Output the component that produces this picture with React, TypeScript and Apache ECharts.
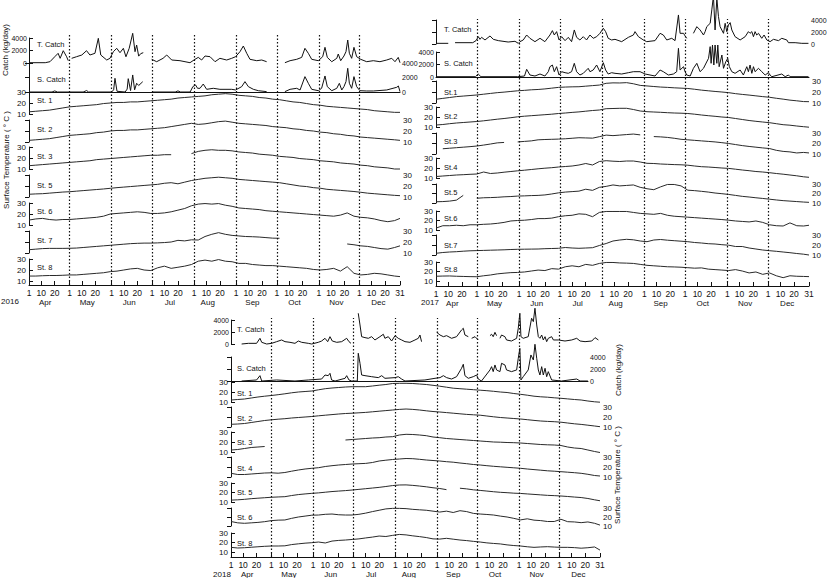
import React, { useEffect, useRef } from "react";
import * as echarts from "echarts";

// ---------- axis definitions (days since 1 April) ----------
const tempDays = [0, 5, 10, 15, 20, 25, 30, 35, 40, 45, 50, 55, 60, 65, 70, 75, 80, 85, 90, 95, 100, 105, 110, 115, 120, 125, 130, 135, 140, 145, 150, 155, 160, 165, 170, 175, 180, 185, 190, 195, 200, 205, 210, 215, 220, 225, 230, 235, 240, 245, 250, 255, 260, 265, 270, 274];
const tickDays = [0, 9, 19, 30, 39, 49, 61, 70, 80, 91, 100, 110, 122, 131, 141, 153, 162, 172, 183, 192, 202, 214, 223, 233, 244, 253, 263, 274];
const tickLabels = ["1", "10", "20", "1", "10", "20", "1", "10", "20", "1", "10", "20", "1", "10", "20", "1", "10", "20", "1", "10", "20", "1", "10", "20", "1", "10", "20", "31"];
const monthStarts = [30, 61, 91, 122, 153, 183, 214, 244];
const monthLabelDays = [12, 43, 74, 104, 132, 165, 196, 227, 258];
const monthNames = ["Apr", "May", "Jun", "Jul", "Aug", "Sep", "Oct", "Nov", "Dec"];

// ---------- 2016 ----------
const tCatch2016: [number, number | null][] = [[0, 50], [12, 50], [15.5, 210], [19, 1000], [21.5, 1550], [23, 750], [25.3, 1970], [27.8, 1000], [29, 370], [30, null], [31.5, 750], [35, 1000], [39, 1280], [42.5, 1970], [45, 1280], [48.7, 1550], [51.2, 3950], [53, 1280], [57.4, 480], [59.8, 750], [62.3, 1810], [64.8, 2350], [67.2, 1650], [69.7, 2350], [71.6, 1000], [74, 2350], [76.6, 4750], [78.3, 1810], [79.5, 2880], [81, 1100], [82.5, 1500], [84.4, 1650], [87, null], [90.6, 590], [94.3, 210], [99, 750], [101.7, 1280], [105.4, 480], [111.5, 370], [118.9, 50], [122.6, 590], [125, 900], [127.5, 480], [130, 1120], [133.7, 1010], [137.4, 210], [141, 750], [146, 480], [149.7, 750], [152.6, 1010], [155.8, 1810], [158.3, 2720], [160.8, 1550], [163.2, 590], [168.2, 370], [171.9, 480], [175.5, 210], [180, null], [189, 50], [192.8, 370], [197.7, 590], [201.4, 900], [203.8, 2350], [206.3, 1550], [208.8, 590], [213.7, 370], [216.9, 1010], [218.6, 2510], [220.3, 900], [223.6, 210], [227.3, 750], [228.4, 1440], [230.2, 370], [232.6, 1120], [234.1, 1810], [235.4, 3680], [236.6, 1550], [238.3, 750], [240, 2510], [242, 1010], [245, 590], [249.4, 210], [254.3, 370], [259.2, 210], [264.2, 480], [267.9, 750], [270.3, 210], [272.7, 900], [274, 50]];
const sCatch2016: [number, number | null][] = [[0, 0], [17, 0], [19, 150], [21, 0], [40, 0], [42.6, 200], [44, 0], [61, 0], [62.5, 300], [63.5, 1890], [65, 100], [71, 0], [72.5, 400], [73.3, 1840], [75, 200], [76.6, 2350], [78, 300], [79.5, 1200], [81, 900], [84, 1420], [86, null], [91, 0], [108, 0], [110, 150], [112, 0], [119, 0], [121, 740], [123, 970], [124.5, 510], [126.3, 510], [128.7, 1100], [131.2, 370], [136.1, 510], [141, 370], [149.7, 370], [152.6, 280], [157.1, 740], [159.5, 1430], [162, 740], [165.7, 370], [169.4, 180], [175.5, 50], [180, null], [189, 50], [192.8, 370], [197.7, 510], [200.2, 280], [203.8, 2120], [206.3, 1200], [208.8, 370], [213.7, 180], [216.1, 510], [218.6, 2210], [220.3, 740], [223.6, 180], [227.3, 510], [229.2, 1200], [231, 280], [232.6, 740], [234.1, 1430], [235.4, 3270], [236.6, 1200], [238.3, 510], [240, 2120], [242, 740], [244.4, 180], [249.4, 140], [254.3, 140], [264.2, 280], [271.6, 650], [272.8, 830], [274, 50]];
const st1_2016 = [12, 12.5, 13, 13.5, 14.5, 15.5, 16.5, 17, 17.5, 18, 18.5, 19.5, 20, 20.5, 20.5, 21, 21, 21.5, 22, 22.5, 23, 23.5, 24.5, 25, 25.5, 26, 26.5, 27.5, 28, 28.5, 28, 27, 26.5, 26, 25, 24.5, 23.5, 23, 22, 21, 20.5, 19.5, 18.5, 18, 17, 16.5, 16, 15.5, 15, 14.5, 14, 13, 12.5, 12, 11.5, 11.5];
const st2_2016 = [11.5, 12, 12.5, 13, 14, 15, 16, 16.5, 17, 17.5, 18.5, 19, 20, 20.5, 20.5, 21, 21, 21.5, 22, 22.5, 23, 24, 25, 26, 27, 26, 26.5, 27.5, 28.5, 29, 28, 27, 26.5, 26, 25.5, 25, 24, 23.5, 23, 22, 21.5, 20.5, 20, 19, 18.5, 17.5, 17, 16, 15.5, 14.5, 14, 13.5, 13, 12.5, 12, 11.5];
const st3_2016 = [13, 13.5, 14, 14.5, 15, 15.5, 16, 16.5, 17, 17.5, 18.5, 19, 19.5, 20, 20.5, 21, 21.5, 22, 22.5, 22.5, 23, 23, null, null, 24, 26, 27, 27.5, 27, 27, 26.5, 25.5, 25, 24.5, 23.5, 23, 22.5, 21.5, 21, 20.5, 19.5, 19, 18.5, 17.5, 17, 16.5, 15.5, 15, 14.5, 13.5, 13, 12, 11.5, 11, 10, 10];
const st5_2016 = [12.5, 12.8, 13, 13.5, 14, 14.5, 14.8, 15.3, 15.8, 16.3, 16.8, 17.3, 17.9, 18.5, 19, 19.5, 20, 20.5, 21, 21.5, 22.5, 23, 22, 23.5, 25, 26, 27, 27.5, 28, 27.5, 27, 26, 25.5, 25, 24.5, 24, 23.5, 23, 22, 21, 20, 19.5, 18.5, 18, 17, 16.5, 16, 15.5, 15, 14.3, 13.5, 13, 12.5, 12, 11.5, 11.2];
const st6_2016 = [14.5, 15.5, 16, 15, 14.5, 15, 15, 15.5, 16, 16.5, 17, 18, 20, 20.5, 21, 21.5, 22, 21.5, 20.5, 20.5, 21, 22, 23.5, 25, 27.5, 29, 29.5, 29, 29.5, 28, 27, 25.5, 25, 24.5, 24, 23, 22.5, 22, 21.5, 21, 20.5, 20, 19.5, 19, 18.5, 18, 19, 21, 18, 17, 16.5, 15.5, 14, 13, 14, 16];
const st7_2016 = [13, 13.5, 14, 14.2, 14.2, 14.2, 14.3, 14.5, 15, 15.5, 16, 16.5, 17, 17.5, 18, 18.5, 18.8, 19, 19, 19.2, 19.5, 20, 21.5, 21, 22, 21.8, 25, 27, 28.5, 27, 26, 25.5, 25, 24.8, 24.5, 24, 23.5, 23.4, null, null, null, null, null, null, null, null, null, 18.2, 17.5, 16.5, 16, 15, 14, 13.5, 15, 16.5];
const st8_2016 = [14.5, 14.5, 14.8, 15, 15, 15.2, 15.5, 15.5, 16, 16.5, 17, 17.5, 18.5, 19, 20, 21, 21.5, 20, 19.5, 22, 23.5, 21.5, 22.5, 23.5, 25, 28, 29, 28, 29.5, 28, 27.5, 26, 26, 25, 24.5, 24, 24, 23.5, 23, 22.5, 22, 21.5, 20.5, 20, 20.5, 21.5, 19, 23, 17, 15.5, 16, 17, 16.5, 15.5, 14.5, 14];

// ---------- 2017 ----------
const tCatch2017: [number, number | null][] = [[0, 110], [9, 110], [11, null], [14, 220], [27, 220], [29.4, 560], [31.1, 1220], [32.3, 780], [33.5, 1110], [36, 670], [39.7, 1340], [42.1, 780], [45.8, 560], [53, 330], [58, 450], [60.5, 110], [61.7, 390], [64.1, 670], [66.6, 1500], [69, 950], [72.7, 390], [76.4, 950], [80, 390], [83.7, 1500], [85.5, 2230], [86.9, 1500], [88.6, 2060], [90.4, 670], [92.3, 1220], [94.8, 560], [97.2, 1110], [99.6, 390], [101.6, 2340], [103.3, 1110], [105.7, 670], [108.2, 1220], [110.6, 670], [113.1, 1500], [115.5, 950], [118, 1220], [120.4, 1780], [122.9, 2620], [124.6, 2060], [126.5, 950], [129, 670], [131.5, 780], [136.4, 390], [141.3, 1110], [145, 1500], [146.2, 2060], [148.7, 1220], [152.3, 670], [154.8, 390], [160.9, 560], [164.6, 1780], [167, 1500], [169.5, 670], [173.2, 950], [175.6, 560], [178.1, 4840], [179.3, 1780], [181.8, 1780], [183, 1340], [184.2, 950], [186, null], [189.1, 1780], [191.6, 2890], [194, 2340], [196.5, 1500], [197.7, 2060], [198.9, 2890], [201.4, 3450], [202.6, 5680], [203.8, 8000], [205, 2340], [206.3, 7600], [207.5, 4560], [208.7, 2890], [211.2, 1780], [212.4, 3450], [213.6, 2060], [214.8, 3170], [216.1, 3560], [217.3, 2340], [219.7, 1220], [223.4, 670], [227.1, 1220], [229.5, 2060], [230.7, 1780], [232, 2060], [233.2, 1220], [234.4, 2060], [235.6, 1500], [236.9, 1780], [239.3, 950], [241, 1500], [243, 670], [245.4, 390], [247.9, 780], [251.6, 560], [254, 950], [257.7, 670], [258.9, 220], [263.8, 220], [268.7, 110], [273.6, 110]];
const sCatch2017: [number, number | null][] = [[0, 50], [29, 50], [31, 480], [33, 50], [60, 50], [65, 160], [66.6, 1230], [69, 320], [72.7, 160], [76.4, 480], [80, 160], [82.5, 850], [83.7, 1650], [85.5, 1920], [86.9, 850], [88.6, 1650], [90.4, 320], [92.3, 850], [94.8, 690], [97.2, 590], [99.6, 850], [101.6, 2190], [103.3, 850], [105.7, 320], [108.2, 590], [111.8, 1390], [113.1, 850], [115.5, 1120], [118, 1920], [120.4, 850], [122.9, 2290], [124.6, 1120], [126.5, 480], [129, 690], [131.5, 590], [136.4, 480], [141.3, 690], [145, 850], [149.9, 850], [153.6, 480], [160.9, 160], [164.6, 1120], [167, 850], [170.7, 320], [174.4, 480], [176.8, 850], [178.1, 4590], [179.3, 1120], [181.8, 1650], [183, 850], [184.2, 320], [186.7, 160], [189.1, 1390], [191.6, 2190], [194, 850], [196.5, 1390], [197.7, 1920], [200.2, 2990], [201.4, 4860], [202.1, 2190], [203.1, 5120], [204.1, 1920], [205, 5120], [206.3, 2190], [207, 5120], [208, 1650], [210, 3520], [211.2, 1390], [212.9, 2450], [214.3, 2990], [215.5, 1650], [217.3, 850], [219.7, 590], [223.4, 1120], [225.8, 320], [228.3, 1650], [229.5, 850], [230.7, 1920], [232, 590], [233.2, 1650], [234.4, 850], [236.9, 1390], [239.3, 850], [241.8, 320], [244.2, 690], [245.4, 320], [246.7, 50], [254, 480], [256.5, 50], [258.9, 320], [260.1, 50], [273.6, 50]];
const st1_2017 = [13.4, 14.2, 15, 15.8, 16.3, 16.8, 17.3, 18, 18.7, 19.4, 19.9, 20.5, 21.1, 21.5, 22, 22.3, 22.8, 23.5, 24.2, 24.5, 24.7, 24.8, 25.3, 25.8, 26.3, 27.9, 28.3, 28.2, 28.5, 27.5, 26, 25.5, 25, 24.5, 24.2, 23.8, 23.5, 23.2, 22.5, 21.7, 21.1, 20.5, 20, 19.4, 18.5, 17.8, 17.2, 16.5, 15.8, 15.2, 14.3, 13.5, 12.6, 12, 11.3, 11.2];
const st2_2017 = [12, 12.5, 13.3, 14, 14.5, 15, 15.5, 16.2, 17, 17.8, 18.5, 19.3, 20.2, 20.8, 21.3, 21.8, 22.3, 22.8, 23.5, 24, 24.6, 25.1, 25.8, 26.5, 27, 28.3, 28.5, 28.7, 28.7, 27.5, 26, 25.3, 25, 24.7, 24.3, 24, 23.8, 23.5, 22.8, 22, 21.3, 20.7, 20, 19.5, 18.5, 17.5, 16.5, 15.7, 15, 14.3, 13.3, 12.3, 11.8, 11, 10.3, 9.8];
const st3_2017 = [null, 15, 15.5, 16, 16.5, 17, 17.6, 18.5, 19.5, 20.6, 21, null, 21.5, 22, 22.5, 23.5, 23.8, 24, 24.2, 24.5, 25, 25.5, 25.3, 25.1, 26.5, 28, 27.5, 28, 28.5, 29, 28.2, null, 26.6, 26.3, 25.8, 25, 24, 23.5, 23, 22.5, 22, 21.5, 20.8, 20, 19, 18, 17.2, 16.5, 15.8, 15.2, 13.5, 12.5, 12, 11, 11.5, 11];
const st4_2017 = [11.5, 12, 12.5, 13, 13.3, 13.7, 14, 16, 14.5, 15, 15.8, 16.5, 17.2, 17.8, 18.5, 19.2, 19.8, 20.3, 21, 21.5, 22, 23, 24.5, 23, 26.5, 27.3, 26.8, 26.5, 27, 27, 26, 24.7, 24.5, 24, 23.7, 23.4, 23.2, 22.8, 22, 21.3, 21, 20.5, 20, 19.6, 18.8, 18, 17.3, 16.5, 16, 15.3, 14.5, 13.8, 13, 12.2, 11.2, 10.7];
const st5_2017 = [11.3, 11.5, 12, 13, 18, null, 15, 15.5, 15.7, 16, 16.5, 16.8, 17.3, 17.5, 17.8, 18, 18.5, 19.5, 20.7, 21.5, 22, 22.5, 24.5, 23.3, 26.5, 27.5, 29, 28, 28.5, 29, 26.5, 25, 24, 27, 29.5, 29.5, 28, 23.5, 23, 22.3, 21.5, 20.5, 19.8, 19, 18, 17, 16.3, 15.5, 14.8, 14, 13.2, 12.5, 12, 11.5, 11, 10.7];
const st6_2017 = [12, 14.5, 14.5, 15, 14.5, 15.5, 15.5, 16, 16.3, 17, 18, 19.5, 20, 20.3, 21, 22, 22, 22.5, 24, 25, 25.5, 27, 26.5, 24, 28.5, 29.5, 29.5, 29.5, 29.5, 28.5, 27.5, 27, 26.5, 27.5, 25.5, 24.5, 24, 23.5, 23, 22.5, 22, 21.5, 21, 20.3, 19.5, 19, 18.5, 19.5, 18, 15.5, 14.5, 14.2, 17.5, 14.5, 14.2, 15];
const st7_2017 = [11.7, 12.5, 13, 13.3, 13.8, 14.2, 14.4, 14.6, 14.8, 15, 15.2, 15.5, 15.7, 15.8, 15.9, 16, 16.3, 16.5, 16.7, 17.5, 17, 16.7, 17, 17.3, 19.5, 21.5, 24, 25, 25.7, 25.2, 24, 23.3, 25, 25.5, 24.8, 24.3, 23.8, 23.3, 22.5, 22, 21.3, 21, 20.3, 19.8, 18.5, 18.5, 17, 16, 15, 14.3, 13.7, 13, 12.3, 11.5, 10.8, 10];
const st8_2017 = [15, 15.2, 15.3, 15, 14.8, 14.6, 14.5, 15.5, 16.3, 17.5, 18.2, 18.8, 19, 19.5, 20.5, 21.5, 21, 23, 22.5, 25, 26, 25, 27.5, 26.5, 28.5, 29.5, 29.5, 29, 28.8, 28.5, 27.5, 26.5, 26, 25.5, 25, 24.8, 24.5, 24, 23.5, 23.8, 22.5, 22, 21.5, 21, 22, 20.5, 18.5, 19.5, 17, 18.5, 15.5, 13.5, 15.5, 15, 14.8, 14.6];

// ---------- 2018 ----------
const tCatch2018: [number, number | null][] = [[7.9, 0], [12.9, 110], [19, 110], [21.5, 950], [22.8, 280], [26.5, 0], [30.2, 110], [33.9, 390], [37.6, 670], [40.1, 390], [43.8, 280], [47.5, 110], [50, 500], [52.5, 280], [57.4, 110], [59.9, 0], [64.8, 280], [67.3, 500], [69.8, 950], [71.8, 390], [73.5, 1220], [75.2, 500], [78.5, 280], [82.2, 390], [85.9, 950], [87.6, 390], [89.1, 110], [91, null], [94.5, 5120], [95.8, 3170], [97, 1220], [99.5, 1060], [102, 950], [104.4, 1220], [106.9, 670], [110.6, 1220], [113.1, 1620], [114.3, 950], [116.8, 1220], [119.3, 500], [121.8, 1390], [124.2, 950], [126.7, 670], [129.2, 390], [132.9, 280], [136.6, 670], [139.1, 950], [140.3, 1500], [141.5, 390], [143, null], [152.7, 1950], [155.2, 1500], [157.7, 1220], [160.1, 1390], [163.8, 950], [167.5, 1220], [171.2, 2340], [172.5, 2620], [173.7, 1500], [176.2, 1220], [177, null], [178.7, 950], [181.2, 1220], [183.6, 670], [185, null], [192.3, 1390], [193.5, 1620], [194.7, 1220], [196, 1950], [197.2, 1390], [198.5, null], [199.7, 950], [200.9, 1500], [203.4, 1220], [204.6, 670], [208.3, 500], [212.1, 950], [213.3, 2620], [214.5, 5120], [215.3, 1220], [217, 950], [220.7, 1220], [223.2, 4290], [224.5, 3730], [225.7, 5960], [227, 3170], [228.2, 1220], [229.4, 950], [230.7, 1500], [231.9, 670], [233.2, 1220], [234.4, 390], [235.6, 950], [238.1, 1220], [239.4, 670], [243.1, 670], [248, 500], [253, 670], [256.7, 950], [259.2, 500], [262.9, 390], [267.9, 500], [270.3, 1060], [272.8, 670]];
const sCatch2018: [number, number | null][] = [[7.9, 0], [19, 170], [21.5, 890], [22.8, 0], [33.9, 170], [47.5, 0], [57.4, 170], [67.3, 330], [69.8, 1000], [72.2, 890], [73.5, 1280], [74.7, 170], [77.3, 0], [84.7, 450], [85.9, 890], [87.6, 170], [89.6, 0], [93.8, 0], [94.5, 4620], [95.8, 2950], [97, 1000], [99.5, 890], [104.4, 720], [109.4, 560], [111.9, 890], [114.3, 450], [121.8, 560], [124.2, 720], [126.7, 330], [129.2, 0], [144, 170], [151.5, 450], [155.2, 560], [157.7, 890], [160.1, 560], [163.8, 330], [167.5, 720], [171.2, 2120], [172.5, 2790], [173.7, 890], [176.2, 450], [179.9, 720], [182.4, 1000], [183.6, 330], [186, 0], [192.3, 1840], [193.5, 2390], [194.7, 1560], [196, 2670], [197.2, 1840], [199.7, 1560], [200.9, 2950], [203.4, 2670], [204.6, 1840], [208.3, 1560], [212.1, 1840], [213.3, 3790], [214.5, 5450], [215.3, 170], [217, 720], [220.7, 1840], [222.7, 4340], [224.5, 3510], [225.7, 6120], [227, 3790], [228.2, 1840], [229.4, 1000], [230.7, 2390], [231.9, 1000], [233.2, 2120], [234.4, 720], [235.6, 1560], [238.1, 170], [245.4, 0], [256.7, 330], [259.2, 0], [265, 0]];
const st1_2018 = [12, 12.5, 13, 14, 15, 15.8, 16.5, 17.3, 18.2, 19.2, 20, 20.5, 21, 22.2, 23.3, 24, 24.5, 25, 25.3, 25.3, 25.3, 26, 26.8, 27.5, 28.5, 28.7, 28.7, 28.5, 28, 27.5, 26.7, 25.8, 24.8, 23.8, 23.3, 22.8, 22.3, 21.8, 21.3, 20.7, 20, 19.5, 18.5, 17.7, 16.8, 15.8, 15.2, 14.8, 14.2, 13.7, 13.1, 12.5, 12, 11, 10.2, 9.8];
const st2_2018 = [12.7, 13, 13.5, 14.5, 15.5, 16.5, 17.2, 17.8, 18.3, 19, 19.5, 20, 20.5, 21.2, 21.8, 22.4, 23, 23.5, 23.8, 24.2, 24.6, 25.2, 25.8, 26.4, 27, 27.6, 28, 27.6, 27, 26.2, 25.5, 25, 24.4, 23.8, 23.2, 22.6, 22.2, 21.8, 21, 20.2, 19.5, 19, 18.5, 18, 17.3, 16.6, 16, 15.6, 15.3, 14.8, 14, 13.2, 12.6, 11.8, 11, 10.3];
const st3_2018 = [12, 12.5, 13.5, 14.5, 15, 15.5, null, null, null, null, null, null, null, null, null, null, null, 22, 22.5, 23, 23.5, 24, 24.3, 25, 25.3, 27, 27.7, 27.5, 27, 26.3, 25, 24.3, 23.5, 23, 22.5, 22, 21.5, 21, 20.5, 20, 19.8, 19.5, 19.3, 19, 18.5, 18, 17.5, 17.2, 17, 16.5, 15, 14, 13.5, 12, 10.5, 9.5];
const st4_2018 = [13.7, 12.5, 12.5, 13, 13.5, 14, 14.2, 13.8, 14.5, 15.8, 17, 18, 18.7, 19.3, 20.5, 21.3, 22, 22.5, 23, 23.3, 23.6, 24.5, 26, 26.8, 27.5, 28, 28.5, 28.3, 27.7, 27, 26.5, 26, 25.3, 24.8, 24, 23.3, 22.5, 22, 21.3, 20.7, 20.2, 19.7, 19.2, 18.7, 18, 17.4, 16.8, 16.2, 15.8, 15.3, 14.8, 14.3, 13.7, 12.7, 11.5, 11];
const st5_2018 = [12, 12.3, 12.8, 13.5, 14, 14.5, 15, 15.3, 15.6, 16.8, 17.8, 18.5, 19.1, 19.6, 20.3, 21, 21.5, 22, 22.6, 23.3, 24, 24.7, 25.4, 26.3, 27.3, 27.9, 28, 27.5, 26.8, 26, 25, 24.2, 23, null, 24.5, 23.8, 22.8, 22.2, 21.5, 20.8, 20.2, 19.8, 19.3, 19, 18.5, 18, 17.5, 17, 16.7, 16.3, 15.8, 15.2, 14.7, 13.7, 12.3, 11.3];
const st6_2018 = [15, 13.5, 13, 13.5, 14, 14.8, 16, 16.5, 16.7, 18.5, 20, 21, 22, 22.2, 23, 23.3, 22.5, 22.2, 22.2, 23, 24.3, 26, 27.5, 29, 29.6, 29.6, 29.3, 28.5, 28, 27.5, 26.5, 25.5, 26.5, 25, 27, 26, 24, 23.3, 22.8, 22.2, 21, 20, 18.5, 16.8, 18, 16.5, 16, 15, 15, 17.5, 14.8, 14.5, 13.7, 14.5, 13, 11];
const st8_2018 = [14.9, 14.2, 14.5, 15, 15.5, 16, 16.3, 16.3, 16.5, 17.8, 18.6, 19.3, 19.8, 20.5, 19.5, 21.5, 22.2, 22.6, 23.2, 23.8, 24.8, 25.7, 26.8, 26.3, 27.5, 28.5, 28, 27, 26.2, 25.2, 23.8, 23.6, 24.4, 23.5, 22.6, 22, 21.2, 20.5, 19.6, 19, 18.5, 17.5, 16.8, 16.3, 15.5, 14.9, 15.3, 15.6, 15.2, 14.9, 14.9, 14.6, 14, 14.5, 15.3, 12];

// ---------- helpers ----------
const FONT = "'Liberation Sans', Arial, sans-serif";
const INK = "#111";
const DAY_MAX = 274;

function temp(vals: (number | null)[]) {
  return tempDays.map((d, i) => [d, vals[i] == null ? "-" : vals[i]]);
}
function pts(list: [number, number | null][]) {
  return list.map(([d, v]) => [d, v == null ? "-" : v]);
}

type Strip = {
  label: string;
  top: number;
  bottom: number;
  side: "left" | "right";
  kind: "catch" | "temp";
  data: any[];
  labelY: number;
  baseline?: boolean;
  right?: number; // optional shorter right edge (same day scale)
};
type Panel = {
  year: string;
  x0: number;
  x1: number;
  axisY: number;
  dotTop: number;
  labelX: number;
  yearX: number;
  yearY: number;
  strips: Strip[];
};

const panels: Panel[] = [
  {
    year: "2016", x0: 29, x1: 400, axisY: 285, dotTop: 34, labelX: 37, yearX: 10, yearY: 301,
    strips: [
      { label: "T. Catch", top: 38, bottom: 63, side: "left", kind: "catch", data: pts(tCatch2016), labelY: 44 },
      { label: "S. Catch", top: 63, bottom: 92, side: "right", kind: "catch", data: pts(sCatch2016), labelY: 79, baseline: true },
      { label: "St. 1", top: 92, bottom: 114, side: "left", kind: "temp", data: temp(st1_2016), labelY: 100 },
      { label: "St. 2", top: 120, bottom: 142, side: "right", kind: "temp", data: temp(st2_2016), labelY: 129 },
      { label: "St. 3", top: 147, bottom: 169, side: "left", kind: "temp", data: temp(st3_2016), labelY: 156 },
      { label: "St. 5", top: 175, bottom: 197, side: "right", kind: "temp", data: temp(st5_2016), labelY: 185 },
      { label: "St. 6", top: 203, bottom: 225, side: "left", kind: "temp", data: temp(st6_2016), labelY: 211 },
      { label: "St. 7", top: 231, bottom: 253, side: "right", kind: "temp", data: temp(st7_2016), labelY: 240 },
      { label: "St. 8", top: 259, bottom: 281, side: "left", kind: "temp", data: temp(st8_2016), labelY: 267 },
    ],
  },
  {
    year: "2017", x0: 436, x1: 809, axisY: 286, dotTop: 19, labelX: 444, yearX: 430, yearY: 302,
    strips: [
      { label: "T. Catch", top: 20, bottom: 44, side: "right", kind: "catch", data: pts(tCatch2017), labelY: 29 },
      { label: "S. Catch", top: 52, bottom: 77, side: "left", kind: "catch", data: pts(sCatch2017), labelY: 63, baseline: true },
      { label: "St.1", top: 81, bottom: 103, side: "right", kind: "temp", data: temp(st1_2017), labelY: 92 },
      { label: "St.2", top: 107, bottom: 127, side: "left", kind: "temp", data: temp(st2_2017), labelY: 116 },
      { label: "St.3", top: 133, bottom: 154, side: "right", kind: "temp", data: temp(st3_2017), labelY: 141 },
      { label: "St.4", top: 158, bottom: 178, side: "left", kind: "temp", data: temp(st4_2017), labelY: 167 },
      { label: "St.5", top: 184, bottom: 203, side: "right", kind: "temp", data: temp(st5_2017), labelY: 192 },
      { label: "St.6", top: 211, bottom: 230, side: "left", kind: "temp", data: temp(st6_2017), labelY: 218 },
      { label: "St.7", top: 235, bottom: 255, side: "right", kind: "temp", data: temp(st7_2017), labelY: 245 },
      { label: "St.8", top: 262, bottom: 281, side: "left", kind: "temp", data: temp(st8_2017), labelY: 269 },
    ],
  },
  {
    year: "2018", x0: 231, x1: 600, axisY: 557, dotTop: 318, labelX: 237, yearX: 222, yearY: 574,
    strips: [
      { label: "T. Catch", top: 320, bottom: 344, side: "left", kind: "catch", data: pts(tCatch2018), labelY: 329 },
      { label: "S. Catch", top: 357, bottom: 381, side: "right", kind: "catch", data: pts(sCatch2018), labelY: 368, baseline: true, right: 588 },
      { label: "St. 1", top: 382, bottom: 402, side: "left", kind: "temp", data: temp(st1_2018), labelY: 393 },
      { label: "St. 2", top: 407, bottom: 427, side: "right", kind: "temp", data: temp(st2_2018), labelY: 418 },
      { label: "St. 3", top: 432, bottom: 452, side: "left", kind: "temp", data: temp(st3_2018), labelY: 442 },
      { label: "St. 4", top: 457, bottom: 477, side: "right", kind: "temp", data: temp(st4_2018), labelY: 468 },
      { label: "St. 5", top: 483, bottom: 502, side: "left", kind: "temp", data: temp(st5_2018), labelY: 492 },
      { label: "St. 6", top: 508, bottom: 526, side: "right", kind: "temp", data: temp(st6_2018), labelY: 517 },
      { label: "St. 8", top: 533, bottom: 552, side: "left", kind: "temp", data: temp(st8_2018), labelY: 543 },
    ],
  },
];

const tickLabelMap = new Map<number, string>(tickDays.map((d, i) => [d, tickLabels[i]]));
const monthMap = new Map<number, string>(monthLabelDays.map((d, i) => [d, monthNames[i]]));

function buildOption() {
  const grid: any[] = [];
  const xAxis: any[] = [];
  const yAxis: any[] = [];
  const series: any[] = [];
  const graphic: any[] = [];

  panels.forEach((p) => {
    p.strips.forEach((s) => {
      const gi = grid.length;
      const xi = xAxis.length;
      const isCatch = s.kind === "catch";
      const right = s.right ?? p.x1;
      const xMax = (DAY_MAX * (right - p.x0)) / (p.x1 - p.x0);
      grid.push({ left: p.x0, top: s.top, width: right - p.x0, height: s.bottom - s.top, outerBoundsMode: "none" });
      xAxis.push({
        gridIndex: gi, type: "value", min: 0, max: xMax, position: "bottom",
        axisLine: { show: !!s.baseline, lineStyle: { color: INK, width: 1 } },
        axisTick: { show: false }, axisLabel: { show: false }, splitLine: { show: false },
      });
      yAxis.push({
        gridIndex: gi, type: "value", position: s.side,
        min: isCatch ? 0 : 10, max: isCatch ? 4000 : 30, interval: isCatch ? 2000 : 10,
        axisLine: { show: true, lineStyle: { color: INK, width: 1 } },
        axisTick: { show: true, inside: true, length: 4, lineStyle: { color: INK, width: 1 } },
        axisLabel: {
          fontSize: isCatch ? 7 : 8, color: INK, fontFamily: FONT, margin: isCatch ? 2 : 3,
          formatter: (v: number) => String(v),
        },
        splitLine: { show: false },
      });
      series.push({
        type: "line", xAxisIndex: xi, yAxisIndex: gi, data: s.data,
        symbol: "none", showSymbol: false, clip: false, connectNulls: false, silent: true,
        lineStyle: { color: isCatch ? "#111" : "#2a2a2a", width: 1 },
      });
      graphic.push({
        type: "text", x: p.labelX, y: s.labelY, silent: true,
        style: { text: s.label, fontSize: 7.5, fontFamily: FONT, fill: INK, verticalAlign: "middle" },
      });
    });

    // overlay grid: month dividers and bottom date axis
    const gi = grid.length;
    const xi = xAxis.length;
    grid.push({ left: p.x0, top: p.dotTop, width: p.x1 - p.x0, height: p.axisY - p.dotTop, outerBoundsMode: "none" });
    xAxis.push({
      gridIndex: gi, type: "value", min: 0, max: DAY_MAX, position: "bottom",
      axisLine: { show: true, lineStyle: { color: INK, width: 1 } },
      axisTick: { show: true, inside: true, length: 4, customValues: tickDays, lineStyle: { color: INK, width: 1 } },
      axisLabel: { customValues: tickDays, formatter: (v: number) => tickLabelMap.get(v) ?? "", fontSize: 8.5, color: INK, fontFamily: FONT, margin: 3 },
      splitLine: { show: false },
    });
    xAxis.push({
      gridIndex: gi, type: "value", min: 0, max: DAY_MAX, position: "bottom", offset: 10,
      axisLine: { show: false }, axisTick: { show: false },
      axisLabel: { customValues: monthLabelDays, formatter: (v: number) => monthMap.get(v) ?? "", fontSize: 8, color: INK, fontFamily: FONT, margin: 3 },
      splitLine: { show: false },
    });
    yAxis.push({ gridIndex: gi, type: "value", min: 0, max: 1, show: false });
    series.push({
      type: "line", xAxisIndex: xi, yAxisIndex: gi, data: [[0, 0]], symbol: "none", silent: true,
      lineStyle: { opacity: 0 },
      markLine: {
        silent: true, symbol: ["none", "none"], label: { show: false },
        lineStyle: { color: INK, type: [1.5, 2], width: 1.2 },
        emphasis: { disabled: true },
        data: monthStarts.map((d) => ({ xAxis: d })),
      },
    });
    graphic.push({
      type: "text", x: p.yearX, y: p.yearY, silent: true,
      style: { text: p.year, fontSize: 8, fontFamily: FONT, fill: INK, align: "center", verticalAlign: "middle" },
    });
  });

  const titleStyle = { fontSize: 8, fontFamily: FONT, fill: INK, align: "center", verticalAlign: "middle" };
  graphic.push({ type: "text", x: 5, y: 50, rotation: Math.PI / 2, silent: true, style: { ...titleStyle, text: "Catch (kg/day)" } });
  graphic.push({ type: "text", x: 6, y: 160, rotation: Math.PI / 2, silent: true, style: { ...titleStyle, text: "Surface Temperature ( ° C )" } });
  graphic.push({ type: "text", x: 618, y: 370, rotation: Math.PI / 2, silent: true, style: { ...titleStyle, text: "Catch (kg/day)" } });
  graphic.push({ type: "text", x: 617, y: 475, rotation: Math.PI / 2, silent: true, style: { ...titleStyle, text: "Surface Temperature ( ° C )" } });

  return { animation: false, backgroundColor: "#fff", grid, xAxis, yAxis, series, graphic };
}

export default function App() {
  const ref = useRef<HTMLDivElement>(null);
  useEffect(() => {
    if (!ref.current) return;
    const chart = echarts.init(ref.current, undefined, { renderer: "svg" });
    chart.setOption(buildOption() as any);
    return () => chart.dispose();
  }, []);
  return (
    <div
      ref={ref}
      style={{ position: "absolute", left: 0, top: 0, width: 827, height: 578, background: "#fff" }}
    />
  );
}
